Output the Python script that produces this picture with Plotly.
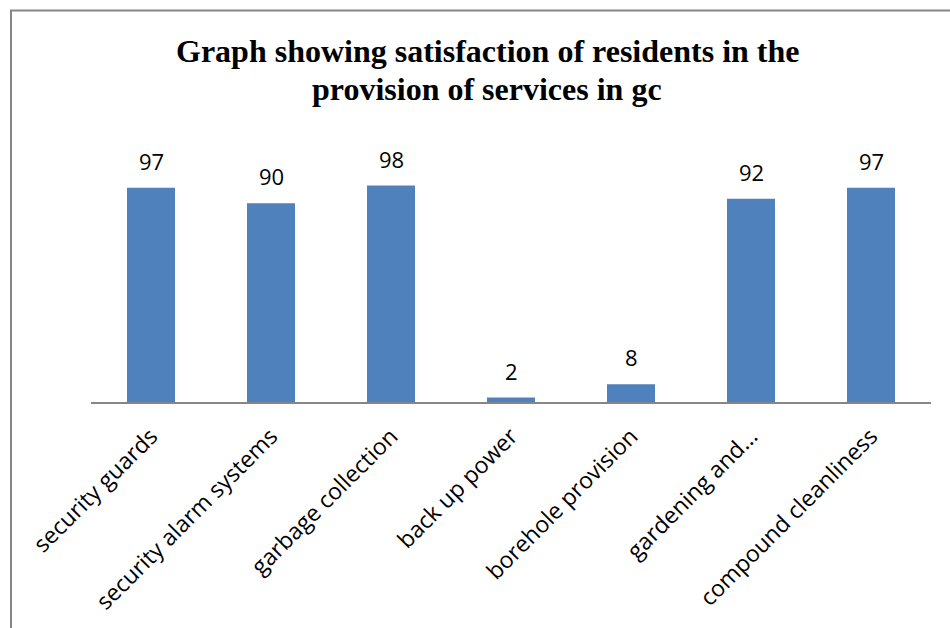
import plotly.graph_objects as go

# Satisfaction of residents with services provided in gc
services = [
    "security guards",
    "security alarm systems",
    "garbage collection",
    "back up power",
    "borehole provision",
    "gardening and...",
    "compound cleanliness",
]
satisfaction = [97, 90, 98, 2, 8, 92, 97]

W, H = 950, 628
PLOT_L, PLOT_R = 91, 931
PLOT_T, PLOT_B = 136.5, 401.7
Y_MAX = 120

bar_color = "#4F81BD"
sans = "Open Sans, Liberation Sans, sans-serif"
value_font = dict(family=sans, size=22, color="black")
tick_font = dict(family=sans, size=23, color="black")

fig = go.Figure(
    go.Bar(
        x=services,
        y=satisfaction,
        marker=dict(color=bar_color, line=dict(width=0)),
        hoverinfo="x+y",
    )
)

# value labels above each bar
for s, v in zip(services, satisfaction):
    fig.add_annotation(
        x=s, y=v, text=str(v), showarrow=False,
        yanchor="bottom", yshift=10, font=value_font,
    )

pw, ph = PLOT_R - PLOT_L, PLOT_B - PLOT_T
def px_x(p):
    return (p - PLOT_L) / pw
def px_y(p):
    return (PLOT_B - p) / ph

# chart title, two centred lines
title_font = dict(family="Liberation Serif, Times New Roman, serif", size=32, color="black")
for line, yc in [("Graph showing satisfaction of residents in the", 50),
                 ("provision of services in gc", 88)]:
    fig.add_annotation(
        xref="paper", yref="paper", x=px_x(487), y=px_y(yc),
        text=f"<b>{line}</b>", showarrow=False,
        xanchor="center", yanchor="middle", font=title_font,
    )

# outer chart frame: top and left edges (right and bottom run off the page)
frame = dict(color="#868686", width=2)
fig.add_shape(type="line", xref="paper", yref="paper",
              x0=px_x(10), x1=px_x(960), y0=px_y(10), y1=px_y(10), line=frame)
fig.add_shape(type="line", xref="paper", yref="paper",
              x0=px_x(11), x1=px_x(11), y0=px_y(10), y1=px_y(640), line=frame)

fig.update_layout(
    width=W, height=H,
    margin=dict(l=PLOT_L, r=W - PLOT_R, t=PLOT_T, b=H - PLOT_B),
    paper_bgcolor="white", plot_bgcolor="white",
    bargap=0.6,
    showlegend=False,
    xaxis=dict(
        showline=True, linecolor="#868686", linewidth=1.5,
        ticks="", tickangle=-45, tickfont=tick_font,
        ticklabelstandoff=10,
        showgrid=False,
    ),
    yaxis=dict(
        range=[0, Y_MAX], visible=False, showgrid=False, zeroline=False,
    ),
)

fig.write_html("out.html")
